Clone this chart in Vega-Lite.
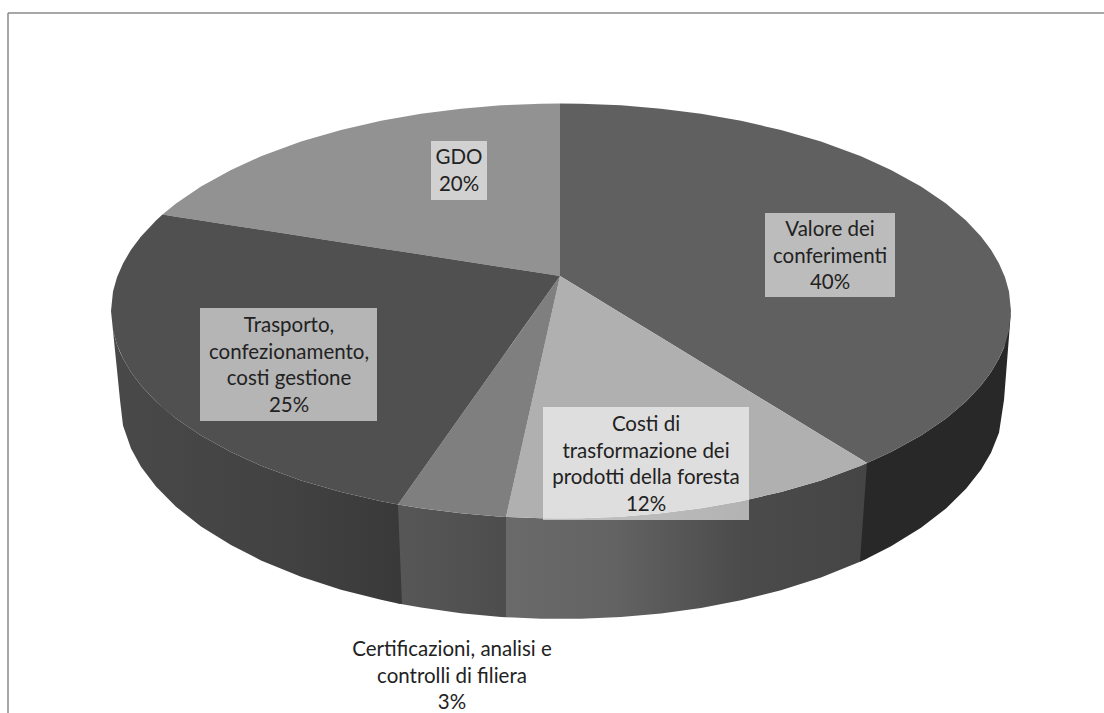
{
  "$schema": "https://vega.github.io/schema/vega-lite/v6.json",
  "width": 1104,
  "height": 713,
  "padding": 0,
  "autosize": "none",
  "background": "white",
  "config": {"view": {"stroke": null}},
  "datasets": {
    "frame": [
      {"x": -553, "v": 298, "v2": -402},
      {"x": -553, "x2": 543, "v": 298}
    ],
    "wall12": [
      {"x": -55, "upper": -205.9, "lower": -306.2},
      {"x": -20, "upper": -207.3, "lower": -307.8},
      {"x": 20, "upper": -207.3, "lower": -307.8},
      {"x": 60, "upper": -205.7, "lower": -306},
      {"x": 100, "upper": -202.3, "lower": -302.4},
      {"x": 140, "upper": -197.2, "lower": -296.9},
      {"x": 180, "upper": -190.2, "lower": -289.2},
      {"x": 220, "upper": -181, "lower": -279.2},
      {"x": 260, "upper": -169.4, "lower": -266.5},
      {"x": 299, "upper": -155.1, "lower": -250.7},
      {"x": 306, "upper": -152, "lower": -247.5}
    ],
    "wall40": [
      {"x": 299, "upper": -250.7, "lower": -250.7},
      {"x": 306, "upper": -152, "lower": -247.5},
      {"x": 330, "upper": -141.1, "lower": -235.2},
      {"x": 360, "upper": -124.5, "lower": -216.8},
      {"x": 385, "upper": -107.4, "lower": -197.4},
      {"x": 405, "upper": -90.4, "lower": -177.8},
      {"x": 420, "upper": -74.5, "lower": -158.7},
      {"x": 430, "upper": -61.2, "lower": -141.7},
      {"x": 438, "upper": -47.6, "lower": -121.8},
      {"x": 443, "upper": -36.5, "lower": -89},
      {"x": 450, "upper": 0, "lower": 0}
    ],
    "wall3": [
      {"x": -163, "upper": -193.4, "lower": -292.4},
      {"x": -140, "upper": -197.2, "lower": -296.6},
      {"x": -100, "upper": -202.3, "lower": -302.2},
      {"x": -60, "upper": -205.7, "lower": -305.9},
      {"x": -55, "upper": -205.9, "lower": -306.2}
    ],
    "wall25": [
      {"x": -450, "upper": 0, "lower": 0},
      {"x": -448, "upper": -19.5, "lower": -19.8},
      {"x": -444, "upper": -33.8, "lower": -59},
      {"x": -441, "upper": -41.3, "lower": -89},
      {"x": -438, "upper": -47.6, "lower": -114.5},
      {"x": -430, "upper": -61.2, "lower": -137.6},
      {"x": -420, "upper": -74.5, "lower": -155.7},
      {"x": -405, "upper": -90.4, "lower": -175.6},
      {"x": -385, "upper": -107.4, "lower": -195.7},
      {"x": -360, "upper": -124.5, "lower": -215.4},
      {"x": -330, "upper": -141.1, "lower": -234.1},
      {"x": -300, "upper": -154.7, "lower": -249.4},
      {"x": -260, "upper": -169.4, "lower": -265.7},
      {"x": -220, "upper": -181, "lower": -278.7},
      {"x": -180, "upper": -190.2, "lower": -288.8},
      {"x": -163, "upper": -193.4, "lower": -292.4},
      {"x": -159, "upper": -293.1, "lower": -293.1}
    ],
    "faces": [
      {"slice": "GDO", "x": -398.5, "upper": 96.4, "lower": 96.4},
      {"slice": "GDO", "x": -385, "upper": 107.4, "lower": 94.3},
      {"slice": "GDO", "x": -360, "upper": 124.5, "lower": 90.5},
      {"slice": "GDO", "x": -330, "upper": 141.1, "lower": 85.8},
      {"slice": "GDO", "x": -300, "upper": 154.7, "lower": 81.2},
      {"slice": "GDO", "x": -260, "upper": 169.4, "lower": 75},
      {"slice": "GDO", "x": -220, "upper": 181, "lower": 68.8},
      {"slice": "GDO", "x": -180, "upper": 190.2, "lower": 62.6},
      {"slice": "GDO", "x": -140, "upper": 197.2, "lower": 56.5},
      {"slice": "GDO", "x": -100, "upper": 202.3, "lower": 50.3},
      {"slice": "GDO", "x": -60, "upper": 205.7, "lower": 44.1},
      {"slice": "GDO", "x": -20, "upper": 207.3, "lower": 37.9},
      {"slice": "GDO", "x": -1, "upper": 207.5, "lower": 35},

      {"slice": "Valore", "x": -1, "upper": 207.5, "lower": 35},
      {"slice": "Valore", "x": 20, "upper": 207.3, "lower": 22.2},
      {"slice": "Valore", "x": 60, "upper": 205.7, "lower": -2.2},
      {"slice": "Valore", "x": 100, "upper": 202.3, "lower": -26.5},
      {"slice": "Valore", "x": 140, "upper": 197.2, "lower": -50.9},
      {"slice": "Valore", "x": 180, "upper": 190.2, "lower": -75.2},
      {"slice": "Valore", "x": 220, "upper": 181, "lower": -99.6},
      {"slice": "Valore", "x": 260, "upper": 169.4, "lower": -124},
      {"slice": "Valore", "x": 300, "upper": 154.7, "lower": -148.3},
      {"slice": "Valore", "x": 306, "upper": 152, "lower": -152},
      {"slice": "Valore", "x": 330, "upper": 141.1, "lower": -141.1},
      {"slice": "Valore", "x": 360, "upper": 124.5, "lower": -124.5},
      {"slice": "Valore", "x": 385, "upper": 107.4, "lower": -107.4},
      {"slice": "Valore", "x": 405, "upper": 90.4, "lower": -90.4},
      {"slice": "Valore", "x": 420, "upper": 74.5, "lower": -74.5},
      {"slice": "Valore", "x": 430, "upper": 61.2, "lower": -61.2},
      {"slice": "Valore", "x": 438, "upper": 47.6, "lower": -47.6},
      {"slice": "Valore", "x": 444, "upper": 33.8, "lower": -33.8},
      {"slice": "Valore", "x": 448, "upper": 19.5, "lower": -19.5},
      {"slice": "Valore", "x": 450, "upper": 0, "lower": 0},

      {"slice": "Costi", "x": -55, "upper": -205.9, "lower": -205.9},
      {"slice": "Costi", "x": -20, "upper": -49.8, "lower": -207.3},
      {"slice": "Costi", "x": -1, "upper": 35, "lower": -207.5},
      {"slice": "Costi", "x": 20, "upper": 22.2, "lower": -207.3},
      {"slice": "Costi", "x": 60, "upper": -2.2, "lower": -205.7},
      {"slice": "Costi", "x": 100, "upper": -26.5, "lower": -202.3},
      {"slice": "Costi", "x": 140, "upper": -50.9, "lower": -197.2},
      {"slice": "Costi", "x": 180, "upper": -75.2, "lower": -190.2},
      {"slice": "Costi", "x": 220, "upper": -99.6, "lower": -181},
      {"slice": "Costi", "x": 260, "upper": -124, "lower": -169.4},
      {"slice": "Costi", "x": 300, "upper": -148.3, "lower": -154.7},
      {"slice": "Costi", "x": 306, "upper": -152, "lower": -152},

      {"slice": "Certificazioni", "x": -163, "upper": -193.4, "lower": -193.4},
      {"slice": "Certificazioni", "x": -140, "upper": -161, "lower": -197.2},
      {"slice": "Certificazioni", "x": -100, "upper": -104.6, "lower": -202.3},
      {"slice": "Certificazioni", "x": -60, "upper": -48.2, "lower": -205.7},
      {"slice": "Certificazioni", "x": -55, "upper": -41.2, "lower": -205.9},
      {"slice": "Certificazioni", "x": -20, "upper": 8.2, "lower": -49.8},
      {"slice": "Certificazioni", "x": -1, "upper": 35, "lower": 35},

      {"slice": "Trasporto", "x": -450, "upper": 0, "lower": 0},
      {"slice": "Trasporto", "x": -448, "upper": 19.5, "lower": -19.5},
      {"slice": "Trasporto", "x": -444, "upper": 33.8, "lower": -33.8},
      {"slice": "Trasporto", "x": -438, "upper": 47.6, "lower": -47.6},
      {"slice": "Trasporto", "x": -430, "upper": 61.2, "lower": -61.2},
      {"slice": "Trasporto", "x": -420, "upper": 74.5, "lower": -74.5},
      {"slice": "Trasporto", "x": -405, "upper": 90.4, "lower": -90.4},
      {"slice": "Trasporto", "x": -398.5, "upper": 96.4, "lower": -96.4},
      {"slice": "Trasporto", "x": -385, "upper": 94.3, "lower": -107.4},
      {"slice": "Trasporto", "x": -360, "upper": 90.5, "lower": -124.5},
      {"slice": "Trasporto", "x": -330, "upper": 85.8, "lower": -141.1},
      {"slice": "Trasporto", "x": -300, "upper": 81.2, "lower": -154.7},
      {"slice": "Trasporto", "x": -260, "upper": 75, "lower": -169.4},
      {"slice": "Trasporto", "x": -220, "upper": 68.8, "lower": -181},
      {"slice": "Trasporto", "x": -180, "upper": 62.6, "lower": -190.2},
      {"slice": "Trasporto", "x": -163, "upper": 60, "lower": -193.4},
      {"slice": "Trasporto", "x": -140, "upper": 56.5, "lower": -161},
      {"slice": "Trasporto", "x": -100, "upper": 50.3, "lower": -104.6},
      {"slice": "Trasporto", "x": -60, "upper": 44.1, "lower": -48.2},
      {"slice": "Trasporto", "x": -20, "upper": 37.9, "lower": 8.2},
      {"slice": "Trasporto", "x": -1, "upper": 35, "lower": 35}
    ],
    "labels": [
      {"slice": "GDO", "share": 20, "text": "GDO\n20%", "x": -102, "v": 153, "left": -130, "right": -74, "top": 170, "bottom": 111},
      {"slice": "Valore", "share": 40, "text": "Valore dei\nconferimenti\n40%", "x": 269, "v": 81, "left": 204, "right": 334, "top": 98, "bottom": 14},
      {"slice": "Trasporto", "share": 25, "text": "Trasporto,\nconfezionamento,\ncosti gestione\n25%", "x": -272, "v": -15, "left": -361, "right": -184, "top": 3, "bottom": -110},
      {"slice": "Costi", "share": 12, "text": "Costi di\ntrasformazione dei\nprodotti della foresta\n12%", "x": 85, "v": -114, "left": -18, "right": 188, "top": -96, "bottom": -209},
      {"slice": "Certificazioni", "share": 3, "text": "Certificazioni, analisi e\ncontrolli di filiera\n3%", "x": -109, "v": -339}
    ]
  },
  "encoding": {
    "x": {"field": "x", "type": "quantitative", "axis": null, "scale": {"domain": [-561, 543], "nice": false, "zero": false}},
    "y": {"field": "upper", "type": "quantitative", "axis": null, "scale": {"domain": [-402, 311], "nice": false, "zero": false}}
  },
  "layer": [
    {
      "data": {"name": "frame"},
      "mark": {"type": "rule", "color": "#8a8a8a", "strokeWidth": 1.5},
      "encoding": {
        "y": {"field": "v", "type": "quantitative"},
        "y2": {"field": "v2"},
        "x2": {"field": "x2"}
      }
    },
    {
      "data": {"name": "wall12"},
      "mark": {"type": "area", "color": {"x1": 0, "x2": 1, "y1": 0, "y2": 0, "gradient": "linear", "stops": [
        {"offset": 0, "color": "#6a6a6a"},
        {"offset": 0.3, "color": "#636363"},
        {"offset": 0.65, "color": "#4b4b4b"},
        {"offset": 1, "color": "#454545"}
      ]}},
      "encoding": {"y2": {"field": "lower"}}
    },
    {
      "data": {"name": "wall40"},
      "mark": {"type": "area", "color": "#282828"},
      "encoding": {"y2": {"field": "lower"}}
    },
    {
      "data": {"name": "wall3"},
      "mark": {"type": "area", "color": {"x1": 0, "x2": 1, "y1": 0, "y2": 0, "gradient": "linear", "stops": [
        {"offset": 0, "color": "#575757"},
        {"offset": 1, "color": "#4d4d4d"}
      ]}},
      "encoding": {"y2": {"field": "lower"}}
    },
    {
      "data": {"name": "wall25"},
      "mark": {"type": "area", "color": {"x1": 0, "x2": 1, "y1": 0, "y2": 0, "gradient": "linear", "stops": [
        {"offset": 0, "color": "#494949"},
        {"offset": 0.6, "color": "#424242"},
        {"offset": 1, "color": "#393939"}
      ]}},
      "encoding": {"y2": {"field": "lower"}}
    },
    {
      "data": {"name": "faces"},
      "mark": {"type": "area", "strokeWidth": 0.4},
      "encoding": {
        "y2": {"field": "lower"},
        "color": {
          "field": "slice",
          "type": "nominal",
          "legend": null,
          "scale": {
            "domain": ["GDO", "Valore", "Costi", "Certificazioni", "Trasporto"],
            "range": ["#929292", "#606060", "#b0b0b0", "#7f7f7f", "#505050"]
          }
        }
      }
    },
    {
      "data": {"name": "labels"},
      "transform": [{"filter": "isValid(datum.left)"}],
      "mark": {"type": "rect", "color": "white", "opacity": 0.58},
      "encoding": {
        "x": {"field": "left", "type": "quantitative"},
        "x2": {"field": "right"},
        "y": {"field": "top", "type": "quantitative"},
        "y2": {"field": "bottom"}
      }
    },
    {
      "data": {"name": "labels"},
      "mark": {"type": "text", "font": "Lato", "fontSize": 20.5, "lineHeight": 26.5, "lineBreak": "\n", "align": "center", "baseline": "middle", "color": "#222222"},
      "encoding": {
        "y": {"field": "v", "type": "quantitative"},
        "text": {"field": "text"}
      }
    }
  ]
}
